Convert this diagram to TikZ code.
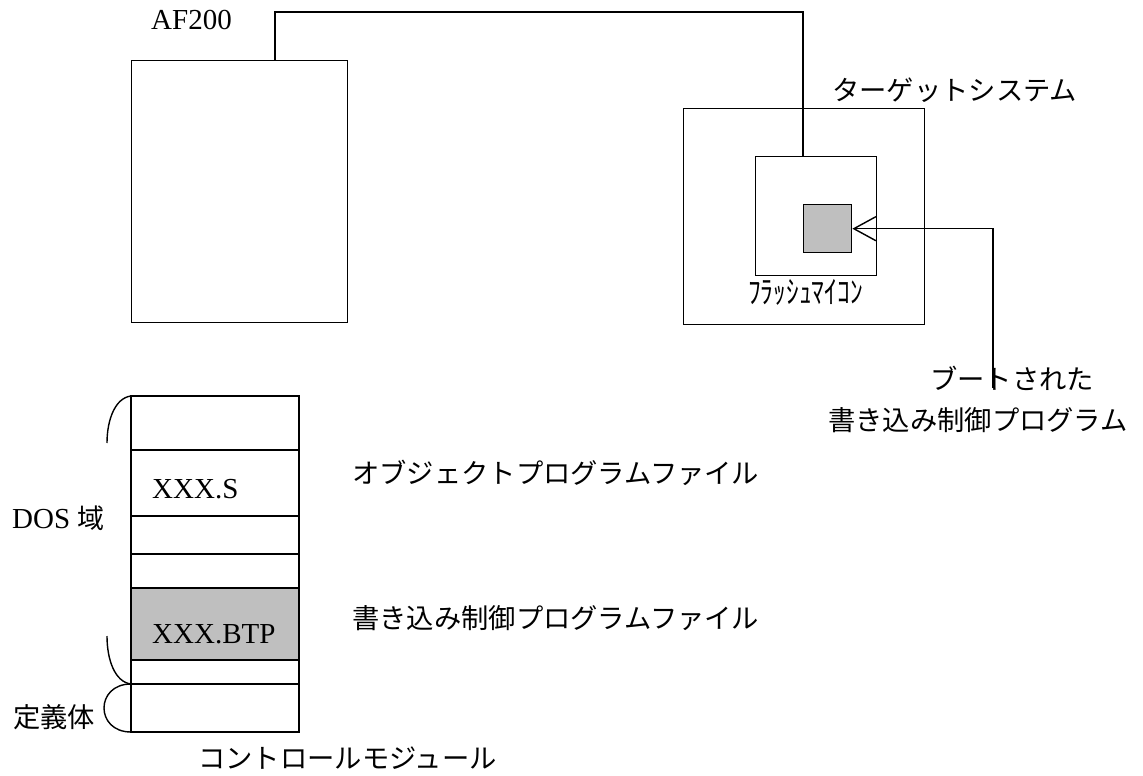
\documentclass[tikz,border=0pt]{standalone}
\usepackage{fontspec}
\usetikzlibrary{arrows.meta}
\newfontfamily\jp{Noto Sans CJK JP}
\newfontfamily\en{Liberation Serif}
\begin{document}
\begin{tikzpicture}[x=1pt,y=-1pt,
  box/.style={draw,line width=1.4pt},
  wire/.style={draw,line width=1.4pt},
  jplabel/.style={font=\jp\fontsize{27.3}{30}\selectfont,inner sep=0pt},
  enlabel/.style={font=\en\fontsize{29}{31}\selectfont,inner sep=0pt},
  cell/.style={draw,line width=1.4pt,minimum width=168pt,inner sep=0pt,anchor=north west,outer sep=0pt}]
\useasboundingbox (0,0) rectangle (1143,776);
% AF200
\node[box,minimum width=216pt,minimum height=262pt,anchor=north west,inner sep=0pt] (af) at (131,60) {};
\node[enlabel,anchor=west] (aflabel) at (151,20) {AF200};
% target
\node[box,minimum width=241pt,minimum height=216pt,anchor=north west,inner sep=0pt] (tgt) at (683,108) {};
\node[box,minimum width=121pt,minimum height=119pt,anchor=north west,inner sep=0pt] (mcu) at (755,156) {};
\node[box,fill=black!25,minimum width=48pt,minimum height=48pt,anchor=north west,inner sep=0pt] (core) at (803,204) {};
\node[jplabel,anchor=west] (tgtlabel) at (832,90) {ターゲットシステム};
\node[font=\jp\fontsize{25}{27}\selectfont,inner sep=0pt,anchor=west] (mculabel) at (748,292) {\scalebox{1.02}[1.25]{ﾌﾗｯｼｭﾏｲｺﾝ}};
% wire AF200 -> MCU
\coordinate (w1) at (275,60);
\draw[wire] (w1) |- (803,12) -- (mcu.north -| 803,0);
% boot program arrow
\node[jplabel,anchor=west] (boot1) at (930,378) {ブートされた};
\node[jplabel,anchor=west] (boot2) at (828,420) {書き込み制御プログラム};
\coordinate (bootend) at (993,388);
\draw[wire,-{Straight Barb[length=22pt,width=24pt,line width=1.4pt]}] (bootend) |- (core.east);
% stack
\node[cell,minimum height=54pt] (c1) at (131,396) {};
\node[cell,minimum height=66pt] (c2) at (131,450) {};
\node[cell,minimum height=38pt] (c3) at (131,516) {};
\node[cell,minimum height=34pt] (c4) at (131,554) {};
\node[cell,minimum height=72pt,fill=black!25] (c5) at (131,588) {};
\node[cell,minimum height=24pt] (c6) at (131,660) {};
\node[cell,minimum height=48pt] (c7) at (131,684) {};
\node[enlabel,anchor=west] (xs) at (152,489) {XXX.S};
\node[enlabel,anchor=west] (xb) at (152,634) {XXX.BTP};
% braces
\draw[line width=1.4pt] (c1.north west) .. controls (115,398) and (107,420) .. (107,443);
\draw[line width=1.4pt] (107,636) .. controls (107,660) and (115,682) .. (c7.north west);
\draw[line width=1.4pt] (c7.north west) .. controls (95,684) and (95,732) .. (c7.south west);
\node[anchor=west,inner sep=0pt] (dos) at (12,518) {\en\fontsize{29}{31}\selectfont DOS {\jp\fontsize{27}{30}\selectfont 域}};
\node[jplabel,anchor=west] (teigi) at (13,717) {定義体};
\node[jplabel,anchor=west] (ctrl) at (198,758) {コントロールモジュール};
\node[jplabel,anchor=west] (obj) at (352,473) {オブジェクトプログラムファイル};
\node[jplabel,anchor=west] (btp) at (352,618) {書き込み制御プログラムファイル};
\end{tikzpicture}
\end{document}
